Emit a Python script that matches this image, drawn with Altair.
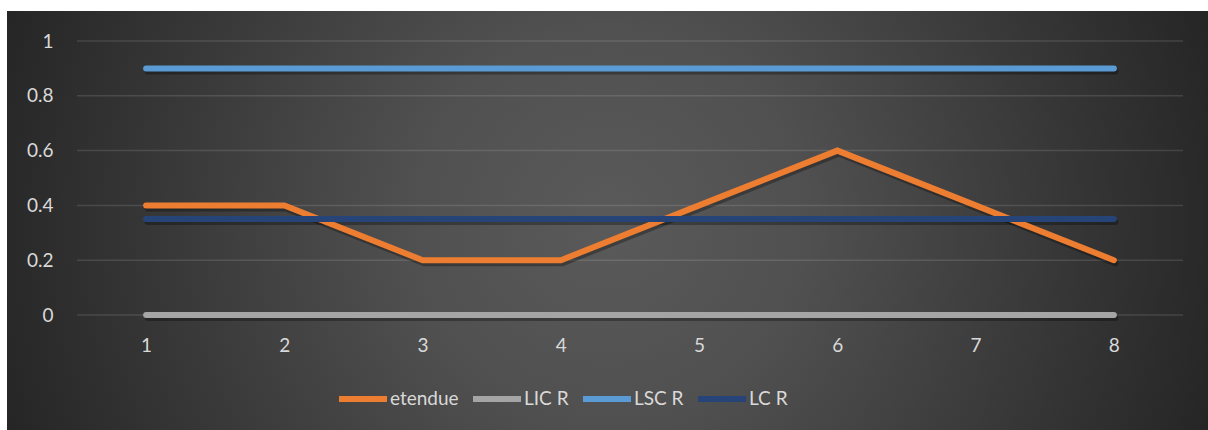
import altair as alt
import pandas as pd

# Sample index on the x axis
samples = ["1", "2", "3", "4", "5", "6", "7", "8"]

# Series values (range chart with its control limits)
etendue = [0.4, 0.4, 0.2, 0.2, 0.4, 0.6, 0.4, 0.2]
lic_r = [0, 0, 0, 0, 0, 0, 0, 0]
lsc_r = [0.9, 0.9, 0.9, 0.9, 0.9, 0.9, 0.9, 0.9]
lc_r = [0.35, 0.35, 0.35, 0.35, 0.35, 0.35, 0.35, 0.35]

series_names = ["etendue", "LIC R", "LSC R", "LC R"]
series_colors = ["#ED7D31", "#A5A5A5", "#5B9BD5", "#264478"]

y_ticks = [0, 0.2, 0.4, 0.6, 0.8, 1]

rows = []
for name, vals in zip(series_names, [etendue, lic_r, lsc_r, lc_r]):
    for s, v in zip(samples, vals):
        rows.append({"sample": s, "series": name, "value": v})
df = pd.DataFrame(rows)

W, H = 1106, 274
FONT = "Lato"
TEXT = "#d9d9d9"

y_scale = alt.Scale(domain=[0, 1], nice=False)

x_enc = alt.X("sample:O", sort=samples,
              scale=alt.Scale(type="point", padding=0.5),
              axis=alt.Axis(title=None, labelAngle=0, domain=False, ticks=False,
                            grid=False, labelFont=FONT, labelFontSize=19,
                            labelColor=TEXT, labelPadding=21, zindex=1))
y_enc = alt.Y("value:Q", scale=y_scale,
              axis=alt.Axis(title=None, values=y_ticks, format="~g", domain=False,
                            ticks=False, grid=False, labelFont=FONT,
                            labelFontSize=19, labelColor=TEXT, labelPadding=24,
                            zindex=1))

# Dark panel with a soft radial glow in the middle
panel = alt.Chart(pd.DataFrame({"k": [0]})).mark_rect(
    fill={
        "gradient": "radial",
        "x1": 0.5, "y1": 0.5, "r1": 0,
        "x2": 0.5, "y2": 0.5, "r2": 0.55,
        "stops": [
            {"offset": 0, "color": "#5a5a5a"},
            {"offset": 0.3, "color": "#505050"},
            {"offset": 0.7, "color": "#363636"},
            {"offset": 1, "color": "#232323"},
        ],
    },
    stroke=None,
).encode(
    x=alt.value(-70), x2=alt.value(W + 25),
    y=alt.value(-30), y2=alt.value(H + 115),
)

# Horizontal gridlines
grid = alt.Chart(pd.DataFrame({"value": y_ticks})).mark_rule(
    color="white", opacity=0.12, strokeWidth=1.5
).encode(
    y=y_enc,
    x=alt.value(0), x2=alt.value(W),
)

# Soft shadow beneath each series
shadow = alt.Chart(df).mark_line(
    color="black", opacity=0.3, strokeWidth=6, strokeCap="round",
    xOffset=1.5, yOffset=3
).encode(x=x_enc, y=y_enc, detail="series:N")

lines = alt.Chart(df).mark_line(strokeWidth=6, strokeCap="round").encode(
    x=x_enc, y=y_enc,
    color=alt.Color(
        "series:N",
        sort=series_names,
        scale=alt.Scale(domain=series_names, range=series_colors),
        legend=alt.Legend(
            title=None, orient="none", direction="horizontal",
            legendX=259, legendY=331,
            symbolType="stroke", symbolSize=2304, symbolStrokeWidth=6,
            labelFont=FONT, labelFontSize=19, labelColor=TEXT,
            labelOffset=0, columnPadding=2,
        ),
    ),
)

chart = alt.layer(panel, grid, shadow, lines).properties(
    width=W, height=H,
    padding={"left": 77, "top": 41, "right": 25, "bottom": 115},
    autosize=alt.AutoSizeParams(type="none"),
    background="white",
).configure_view(stroke=None)

chart.save("out.html", embed_options={"renderer": "svg", "actions": False})
